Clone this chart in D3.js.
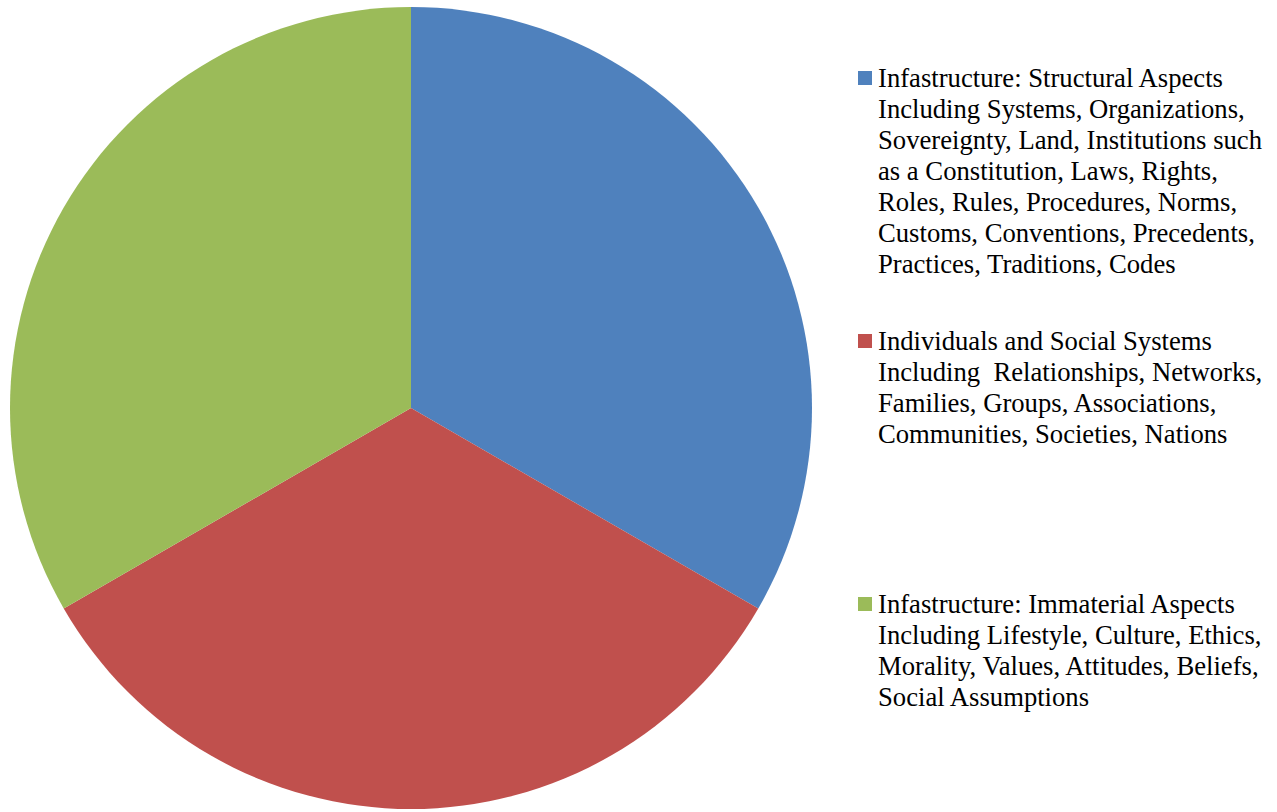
<!DOCTYPE html>
<html>
<head>
<meta charset="utf-8">
<script src="https://cdn.jsdelivr.net/npm/d3@7"></script>
<style>
  body { margin: 0; background: #fff; }
  svg text { white-space: pre; }
</style>
</head>
<body>
<svg id="chart"></svg>
<script>
// data
const categories = [
    "Infastructure: Structural Aspects Including Systems, Organizations, Sovereignty, Land, Institutions such as a Constitution, Laws, Rights, Roles, Rules, Procedures, Norms, Customs, Conventions, Precedents, Practices, Traditions, Codes",
    "Individuals and Social Systems Including  Relationships, Networks, Families, Groups, Associations, Communities, Societies, Nations",
    "Infastructure: Immaterial Aspects Including Lifestyle, Culture, Ethics, Morality, Values, Attitudes, Beliefs, Social Assumptions"
];
const values = [1, 1, 1];
const colors = ["#4F81BD", "#C0504D", "#9BBB59"];
// legend text as wrapped in the original
const legendLines = [
    ["Infastructure: Structural Aspects", "Including Systems, Organizations,", "Sovereignty, Land, Institutions such",
     "as a Constitution, Laws, Rights,", "Roles, Rules, Procedures, Norms,", "Customs, Conventions, Precedents,",
     "Practices, Traditions, Codes"],
    ["Individuals and Social Systems", "Including  Relationships, Networks,", "Families, Groups, Associations,",
     "Communities, Societies, Nations"],
    ["Infastructure: Immaterial Aspects", "Including Lifestyle, Culture, Ethics,", "Morality, Values, Attitudes, Beliefs,",
     "Social Assumptions"]
];

const width = 1277, height = 812;
const cx = 411, cy = 408, radius = 401;

const svg = d3.select("#chart")
    .attr("width", width)
    .attr("height", height);

const pie = d3.pie().sort(null).value(d => d);
const arc = d3.arc().innerRadius(0).outerRadius(radius);

svg.append("g")
    .attr("transform", `translate(${cx}, ${cy})`)
    .selectAll("path")
    .data(pie(values))
    .enter().append("path")
    .attr("d", arc)
    .attr("fill", (d, i) => colors[i]);

// legend
const legendTop = [85, 348, 611];
const lineH = 31;

const legend = svg.append("g").attr("class", "legend");

legendLines.forEach((lines, i) => {
    const g = legend.append("g").attr("transform", `translate(858, ${legendTop[i]})`);
    g.append("rect")
        .attr("x", 0)
        .attr("y", -14)
        .attr("width", 14)
        .attr("height", 14)
        .attr("fill", colors[i]);
    g.append("text")
        .style("font-family", "'Liberation Serif', 'Times New Roman', serif")
        .attr("font-size", 26.67)
        .attr("fill", "#000")
        .selectAll("tspan")
        .data(lines)
        .enter().append("tspan")
        .attr("x", 20)
        .attr("y", (d, j) => 1.5 + j * lineH)
        .text(d => d);
});
</script>
</body>
</html>
